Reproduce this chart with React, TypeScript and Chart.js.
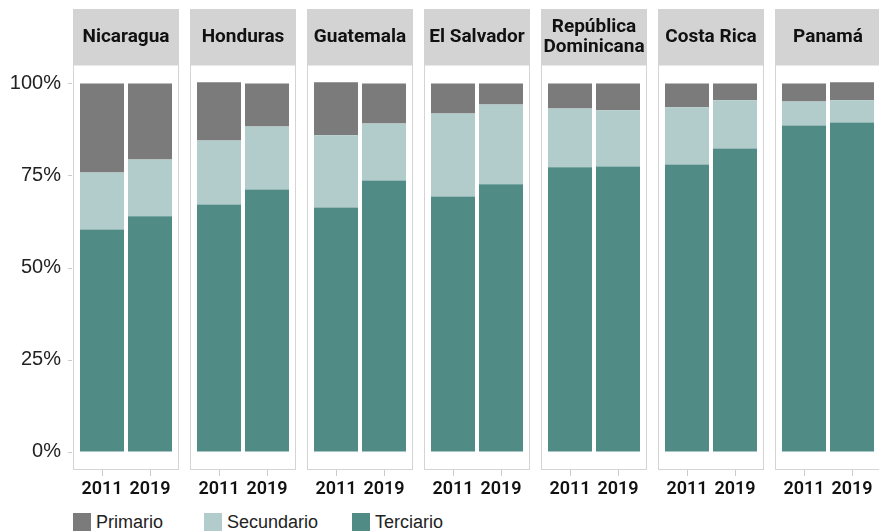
import React, { useEffect, useRef } from "react";
import { Chart, registerables } from "chart.js";

Chart.register(...registerables);

const COUNTRIES = ["Nicaragua", "Honduras", "Guatemala", "El Salvador", "República Dominicana", "Costa Rica", "Panamá"];
const YEARS = ["2011", "2019"];
const SERIES = ["Primario", "Secundario", "Terciario"];

const TERCIARIO_2011 = [60.3, 67.1, 66.3, 69.3, 77.2, 78.0, 88.6];
const TERCIARIO_2019 = [63.9, 71.2, 73.6, 72.6, 77.4, 82.3, 89.4];
const SECUNDARIO_2011 = [15.5, 17.4, 19.6, 22.5, 16.0, 15.5, 6.5];
const SECUNDARIO_2019 = [15.4, 17.1, 15.5, 21.7, 15.3, 13.1, 6.0];
const PRIMARIO_2011 = [24.2, 15.8, 14.4, 8.2, 6.8, 6.5, 4.9];
const PRIMARIO_2019 = [20.7, 11.7, 10.9, 5.7, 7.3, 4.6, 4.9];

const Y_TICKS = [0, 25, 50, 75, 100];

const COLORS: Record<string, string> = {
  Primario: "#7b7b7b",
  Secundario: "#b2cccb",
  Terciario: "#508c85",
};

const PANEL_LEFT0 = 73;
const PANEL_STEP = 117;
const PANEL_W = 106;
const INSET = 5;
const HEADER_TOP = 9;
const BODY_TOP = 65;
const BODY_BOTTOM = 470;
const CANVAS_H = 505;
const YAXIS_W = PANEL_LEFT0 + INSET;

function makePanelPlugin(title: string, first: boolean) {
  return {
    id: "panelDeco",
    beforeDraw(chart: any) {
      const ctx = chart.ctx;
      const ca = chart.chartArea;
      const left = ca.left - INSET;
      const right = ca.right + INSET;
      ctx.save();
      ctx.strokeStyle = "#d4d4d4";
      ctx.lineWidth = 1;
      ctx.strokeRect(left + 0.5, ca.top, right - left - 1, ca.bottom - ca.top - 0.5);
      ctx.fillStyle = "#d3d3d3";
      ctx.fillRect(left, HEADER_TOP, right - left, ca.top - HEADER_TOP);
      ctx.fillStyle = "#111111";
      ctx.font = "700 19px Roboto, 'Liberation Sans', sans-serif";
      ctx.textAlign = "center";
      ctx.textBaseline = "middle";
      const maxW = right - left - 6;
      const words = title.split(" ");
      const lines: string[] = [];
      let cur = "";
      for (const w of words) {
        const t = cur ? cur + " " + w : w;
        if (cur && ctx.measureText(t).width > maxW) {
          lines.push(cur);
          cur = w;
        } else cur = t;
      }
      if (cur) lines.push(cur);
      const cx = (left + right) / 2;
      const cy = (HEADER_TOP + ca.top) / 2;
      const lh = 20;
      lines.forEach((l, i) => {
        ctx.fillText(l, cx, cy + (i - (lines.length - 1) / 2) * lh);
      });
      if (first) {
        const ys = chart.scales.y;
        ctx.strokeStyle = "#cccccc";
        ctx.beginPath();
        Y_TICKS.forEach((v) => {
          const py = Math.round(ys.getPixelForValue(v)) + 0.5;
          ctx.moveTo(left - 5, py);
          ctx.lineTo(left - 1, py);
        });
        ctx.stroke();
      }
      ctx.restore();
    },
  };
}

function Panel({ index }: { index: number }) {
  const ref = useRef<HTMLCanvasElement | null>(null);
  const first = index === 0;
  const left = first ? 0 : PANEL_LEFT0 + PANEL_STEP * index;
  const width = first ? PANEL_LEFT0 + PANEL_W : PANEL_W;

  useEffect(() => {
    if (!ref.current) return;
    const seriesData: Record<string, number[]> = {
      Terciario: [TERCIARIO_2011[index], TERCIARIO_2019[index]],
      Secundario: [SECUNDARIO_2011[index], SECUNDARIO_2019[index]],
      Primario: [PRIMARIO_2011[index], PRIMARIO_2019[index]],
    };
    const order = ["Terciario", "Secundario", "Primario"];
    const chart = new Chart(ref.current, {
      type: "bar",
      data: {
        labels: YEARS,
        datasets: order.map((s) => ({
          label: s,
          data: seriesData[s],
          backgroundColor: COLORS[s],
          borderWidth: 0,
          barPercentage: 44 / 48,
          categoryPercentage: 1,
        })),
      },
      plugins: [makePanelPlugin(COUNTRIES[index], first)],
      options: {
        responsive: false,
        animation: false,
        maintainAspectRatio: false,
        layout: { padding: { top: BODY_TOP, left: first ? 0 : INSET, right: INSET, bottom: 0 } },
        plugins: { legend: { display: false }, tooltip: { enabled: false }, title: { display: false } },
        scales: {
          x: {
            stacked: true,
            offset: true,
            grid: { display: true, drawOnChartArea: false, drawTicks: true, tickLength: 6, color: "#cccccc", offset: false },
            border: { display: false },
            ticks: {
              color: "#111111",
              padding: 3,
              maxRotation: 0,
              autoSkip: false,
              font: { family: "Roboto, 'Liberation Sans', sans-serif", size: 18, weight: 600 as any },
            },
            afterFit: (s: any) => {
              s.height = CANVAS_H - BODY_BOTTOM;
            },
          },
          y: {
            stacked: true,
            display: first,
            min: -5,
            max: 105,
            grid: { display: false },
            border: { display: false },
            afterBuildTicks: (s: any) => {
              s.ticks = Y_TICKS.map((v) => ({ value: v }));
            },
            ticks: {
              padding: 9,
              color: "#222222",
              font: { family: "'Liberation Sans', Roboto, sans-serif", size: 20 },
              callback: (v: any) => v + "%",
            },
            afterFit: (s: any) => {
              s.width = first ? YAXIS_W : 0;
            },
          },
        },
      },
    });
    return () => chart.destroy();
  }, [index]);

  return (
    <canvas
      ref={ref}
      width={width}
      height={CANVAS_H}
      style={{ position: "absolute", left, top: 0, width, height: CANVAS_H }}
    />
  );
}

export default function App() {
  const legendLefts = [73, 204, 352];
  return (
    <div style={{ position: "absolute", left: 0, top: 0, width: 879, height: 531, overflow: "hidden", background: "#ffffff" }}>
      {COUNTRIES.map((c, i) => (
        <Panel key={c} index={i} />
      ))}
      {SERIES.map((s, i) => (
        <div
          key={s}
          style={{
            position: "absolute",
            left: legendLefts[i],
            top: 513,
            height: 18,
            display: "flex",
            alignItems: "center",
            fontFamily: "'Liberation Sans', Roboto, sans-serif",
            fontSize: 18,
            color: "#222222",
            whiteSpace: "nowrap",
          }}
        >
          <span style={{ display: "inline-block", width: 18, height: 18, background: COLORS[s], marginRight: 5 }} />
          <span style={{ lineHeight: "18px" }}>{s}</span>
        </div>
      ))}
    </div>
  );
}
